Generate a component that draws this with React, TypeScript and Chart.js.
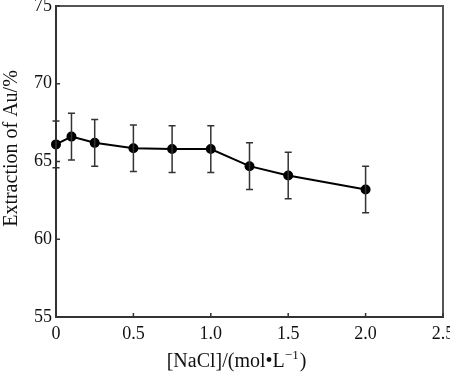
import React, { useEffect, useRef } from "react";
import { Chart, registerables } from "chart.js";

Chart.register(...registerables);

const nacl = [0, 0.1, 0.25, 0.5, 0.75, 1.0, 1.25, 1.5, 2.0];
const extraction = [66.1, 66.6, 66.2, 65.85, 65.8, 65.8, 64.7, 64.1, 63.2];
const errors = [1.5, 1.5, 1.5, 1.5, 1.5, 1.5, 1.5, 1.5, 1.5];
const xTicks = [0, 0.5, 1.0, 1.5, 2.0, 2.5];
const yTicks = [55, 60, 65, 70, 75];
const xTitleMain = "[NaCl]/(mol\u2022L";
const xTitleSup = "\u22121";
const xTitleEnd = ")";
const yTitle = "Extraction of Au/%";

const FONT = "'Liberation Serif', 'Times New Roman', serif";

const decorPlugin = {
  id: "decor",
  afterDatasetsDraw(chart: any) {
    const { ctx } = chart;
    const xs = chart.scales.x;
    const ys = chart.scales.y;
    ctx.save();
    ctx.strokeStyle = "#333";
    ctx.lineWidth = 1.5;
    nacl.forEach((xv, i) => {
      const px = xs.getPixelForValue(xv);
      const top = ys.getPixelForValue(extraction[i] + errors[i]);
      const bot = ys.getPixelForValue(extraction[i] - errors[i]);
      ctx.beginPath();
      ctx.moveTo(px, top);
      ctx.lineTo(px, bot);
      ctx.moveTo(px - 3.5, top);
      ctx.lineTo(px + 3.5, top);
      ctx.moveTo(px - 3.5, bot);
      ctx.lineTo(px + 3.5, bot);
      ctx.stroke();
    });
    ctx.restore();
  },
  afterDraw(chart: any) {
    const { ctx, chartArea } = chart;
    const xs = chart.scales.x;
    const ys = chart.scales.y;
    ctx.save();
    // frame top/right
    ctx.strokeStyle = "#555";
    ctx.lineWidth = 2;
    ctx.beginPath();
    ctx.moveTo(chartArea.left, chartArea.top);
    ctx.lineTo(chartArea.right, chartArea.top);
    ctx.lineTo(chartArea.right, chartArea.bottom);
    ctx.stroke();
    // inward ticks
    ctx.strokeStyle = "#333";
    ctx.lineWidth = 1.5;
    ctx.beginPath();
    xTicks.forEach((v) => {
      const px = xs.getPixelForValue(v);
      ctx.moveTo(px, chartArea.bottom);
      ctx.lineTo(px, chartArea.bottom - 4);
    });
    yTicks.forEach((v) => {
      const py = ys.getPixelForValue(v);
      ctx.moveTo(chartArea.left, py);
      ctx.lineTo(chartArea.left + 4, py);
    });
    ctx.stroke();
    // titles
    ctx.fillStyle = "#111";
    ctx.font = `20px ${FONT}`;
    ctx.textBaseline = "alphabetic";
    const wMain = ctx.measureText(xTitleMain).width;
    const wEnd = ctx.measureText(xTitleEnd).width;
    ctx.font = `13px ${FONT}`;
    const wSup = ctx.measureText(xTitleSup).width;
    const total = wMain + wSup + 1 + wEnd;
    const cx = (chartArea.left + chartArea.right) / 2 - 13;
    let x0 = cx - total / 2;
    const base = 367;
    ctx.textAlign = "left";
    ctx.font = `20px ${FONT}`;
    ctx.fillText(xTitleMain, x0, base);
    x0 += wMain;
    ctx.font = `13px ${FONT}`;
    ctx.fillText(xTitleSup, x0, base - 8);
    x0 += wSup + 1;
    ctx.font = `20px ${FONT}`;
    ctx.fillText(xTitleEnd, x0, base);
    // y title
    ctx.translate(17, (chartArea.top + chartArea.bottom) / 2 - 13);
    ctx.rotate(-Math.PI / 2);
    ctx.textAlign = "center";
    ctx.fillText(yTitle, 0, 0);
    ctx.restore();
  },
};

export default function App() {
  const ref = useRef<HTMLCanvasElement>(null);
  useEffect(() => {
    if (!ref.current) return;
    const chart = new Chart(ref.current, {
      type: "line",
      data: {
        datasets: [
          {
            data: nacl.map((x, i) => ({ x, y: extraction[i] })),
            borderColor: "#000",
            backgroundColor: "#000",
            borderWidth: 2,
            pointRadius: 4,
            pointBackgroundColor: "#000",
            pointBorderColor: "#000",
            tension: 0,
            clip: false as any,
          },
        ],
      },
      options: {
        animation: false,
        responsive: false,
        maintainAspectRatio: false,
        layout: { padding: { left: 0, right: 7, top: 4, bottom: 0 } },
        plugins: { legend: { display: false }, tooltip: { enabled: false } },
        scales: {
          x: {
            type: "linear",
            min: 0,
            max: 2.5,
            afterBuildTicks: (s: any) => {
              s.ticks = xTicks.map((v) => ({ value: v }));
            },
            afterFit: (s: any) => {
              s.height = 57;
              s.paddingLeft = 0;
              s.paddingRight = 0;
            },
            ticks: {
              color: "#111",
              font: { family: FONT, size: 18 },
              padding: 6,
              maxRotation: 0,
              autoSkip: false,
              callback: (v: any) => (v === 0 ? "0" : Number(v).toFixed(1)),
            },
            grid: { drawOnChartArea: false, drawTicks: false },
            border: { display: true, color: "#333", width: 2 },
          },
          y: {
            type: "linear",
            min: 55,
            max: 75,
            afterBuildTicks: (s: any) => {
              s.ticks = yTicks.map((v) => ({ value: v }));
            },
            afterFit: (s: any) => {
              s.width = 56;
              s.paddingTop = 0;
              s.paddingBottom = 0;
            },
            ticks: {
              color: "#111",
              font: { family: FONT, size: 18 },
              padding: 4,
              callback: (v: any) => String(v),
            },
            grid: { drawOnChartArea: false, drawTicks: false },
            border: { display: true, color: "#333", width: 2 },
          },
        },
      },
      plugins: [decorPlugin],
    });
    return () => chart.destroy();
  }, []);
  return (
    <div style={{ position: "fixed", left: 0, top: 0, width: 450, height: 374, background: "#fff" }}>
      <canvas ref={ref} width={450} height={374} style={{ width: 450, height: 374 }} />
    </div>
  );
}
